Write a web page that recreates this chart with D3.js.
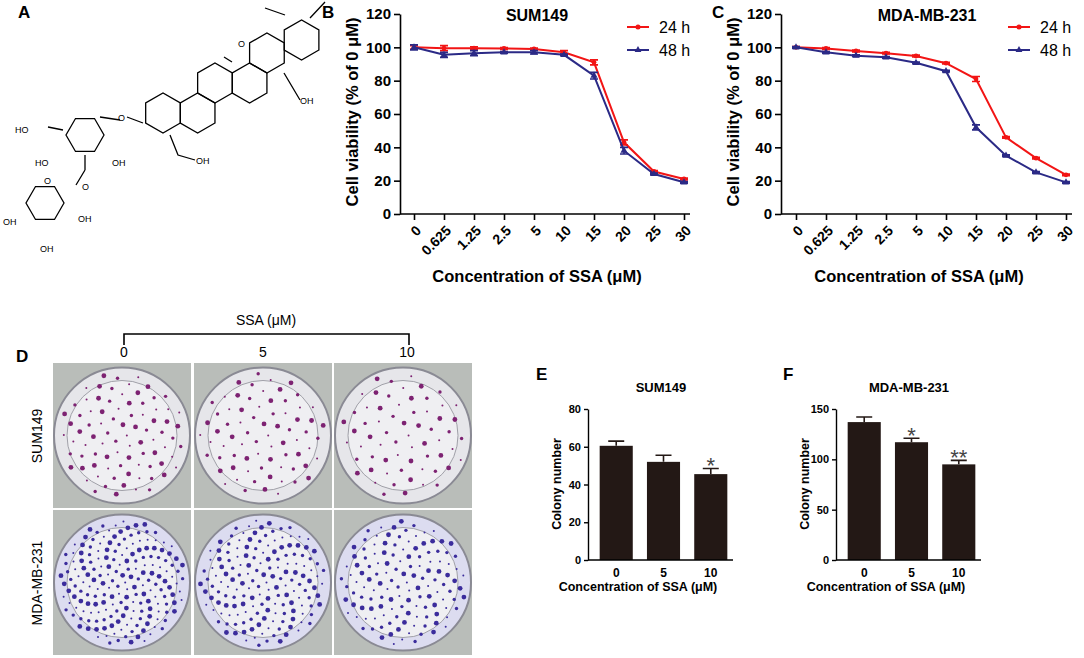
<!DOCTYPE html>
<html><head><meta charset="utf-8">
<script src="https://cdn.jsdelivr.net/npm/d3@7/dist/d3.min.js"></script>
<style>body{margin:0;background:#fff}text{font-family:"Liberation Sans",Arial,sans-serif}</style>
</head><body><svg id="fig" width="1084" height="658"></svg>
<script>
// viability data (% of 0 uM)
const concs = ["0","0.625","1.25","2.5","5","10","15","20","25","30"]
const sum24 = [100,99.5,99.5,99.3,99,97,91,43,25.5,21]
const sum24err = [1,1.5,0.8,0.5,0.5,1,1.5,1.5,0.5,0.5]
const sum48 = [100,95.5,96.5,97,97,95.5,83,38,24,19]
const sum48err = [1.5,1.5,1.5,0.5,1,0.5,2,2,0.5,0.5]
const mda24 = [100,99.3,97.8,96.5,94.8,90.5,81,46,33.5,23.5]
const mda24err = [0.5,0.5,0.5,0.5,0.5,0.5,1.5,0.5,0.5,0.5]
const mda48 = [100,97,95,94,90.7,85.7,52,35,25,19]
const mda48err = [0.5,0.5,0.5,0.5,0.5,0.5,1.5,0.5,0.5,0.5]
// colony data
const doses = ["0","5","10"]
const sumCol = [60.5,52,45.5]
const sumColErr = [2.5,3.5,3]
const sumStars = ["","","*"]
const mdaCol = [137,117,95]
const mdaColErr = [5,4,4]
const mdaStars = ["","*","**"]

const svg = d3.select("#fig")
const RED = "#f21515", BLUE = "#2b2a86", BAR = "#231815"

function label(x, y, t, size){
  svg.append("text").attr("x", x).attr("y", y).attr("font-size", size || 17)
    .attr("font-weight", "bold").text(t)
}

function lineChart(cfg){
  const g = svg.append("g")
  const x = d3.scalePoint().domain(concs).range(cfg.xr)
  const y = d3.scaleLinear().domain([0,120]).range([214,14])
  g.append("g").attr("transform", `translate(0,214)`)
    .call(d3.axisBottom(x).tickSize(6).tickSizeOuter(0))
    .call(a => a.select(".domain").attr("d", `M${cfg.ax},0H${cfg.xr[1]+6}`))
    .call(a => a.selectAll("text").attr("font-size", 14).attr("font-weight", "bold")
      .attr("text-anchor", "end").attr("x", 0).attr("y", 0).attr("dy", "0.35em")
      .attr("transform", "translate(4,14) rotate(-45)"))
  g.append("g").attr("transform", `translate(${cfg.ax},0)`)
    .call(d3.axisLeft(y).tickValues([0,20,40,60,80,100,120]).tickSize(6).tickSizeOuter(0))
    .call(a => a.selectAll("text").attr("font-size", 15).attr("font-weight", "bold"))
  g.selectAll(".domain,.tick line").attr("stroke", "#000").attr("stroke-width", 1.6)
  const series = [[cfg.s24, cfg.e24, RED, "circle"], [cfg.s48, cfg.e48, BLUE, "tri"]]
  series.forEach(([vals, errs, col, shape]) => {
    g.append("path").datum(vals).attr("fill", "none").attr("stroke", col).attr("stroke-width", 2)
      .attr("d", d3.line().x((d,i) => x(concs[i])).y(d => y(d)))
    vals.forEach((v,i) => {
      const cx = x(concs[i])
      g.append("path").attr("stroke", col).attr("stroke-width", 1.6).attr("fill", "none")
        .attr("d", `M${cx-4},${y(v+errs[i])}H${cx+4}M${cx},${y(v+errs[i])}V${y(v-errs[i])}M${cx-4},${y(v-errs[i])}H${cx+4}`)
      g.append("path").attr("fill", col).attr("transform", `translate(${cx},${y(v)})`)
        .attr("d", d3.symbol(shape == "circle" ? d3.symbolCircle : d3.symbolTriangle, shape == "circle" ? 18 : 22)())
    })
  })
  // legend
  ;[["24 h", RED, d3.symbolCircle, 27], ["48 h", BLUE, d3.symbolTriangle, 50]].forEach(([t,c,s,ly]) => {
    g.append("line").attr("x1", cfg.lx).attr("x2", cfg.lx+22).attr("y1", ly).attr("y2", ly).attr("stroke", c).attr("stroke-width", 2)
    g.append("path").attr("fill", c).attr("transform", `translate(${cfg.lx+11},${ly})`).attr("d", d3.symbol(s, 20)())
    g.append("text").attr("x", cfg.lx+32).attr("y", ly+6).attr("font-size", 16).text(t)
  })
  g.append("text").attr("x", cfg.tx).attr("y", 21).attr("text-anchor", "middle").attr("font-size", 16)
    .attr("font-weight", "bold").text(cfg.title)
  g.append("text").attr("x", (cfg.xr[0]+cfg.xr[1])/2 - 12).attr("y", 282).attr("text-anchor", "middle")
    .attr("font-size", 16.5).attr("font-weight", "bold").text("Concentration of SSA (μM)")
  g.append("text").attr("transform", `translate(${cfg.ax-42},112) rotate(-90)`).attr("text-anchor", "middle")
    .attr("font-size", 16.5).attr("font-weight", "bold").text("Cell viability (% of 0 μM)")
}

lineChart({xr:[414,684], ax:400, s24:sum24, e24:sum24err, s48:sum48, e48:sum48err, lx:627, tx:537, title:"SUM149"})
lineChart({xr:[796,1066], ax:781, s24:mda24, e24:mda24err, s48:mda48, e48:mda48err, lx:1008, tx:927, title:"MDA-MB-231"})

function barChart(cfg){
  const g = svg.append("g")
  const x = d3.scaleBand().domain(doses).range([cfg.ax+6, cfg.ax+145]).paddingInner(0.3).paddingOuter(0.12)
  const y = d3.scaleLinear().domain([0, cfg.max]).range([560,409])
  g.selectAll("rect").data(cfg.vals).join("rect")
    .attr("x", (d,i) => x(doses[i])).attr("width", x.bandwidth())
    .attr("y", d => y(d)).attr("height", d => 560 - y(d)).attr("fill", BAR)
  cfg.vals.forEach((v,i) => {
    const cx = x(doses[i]) + x.bandwidth()/2, top = y(v + cfg.errs[i])
    g.append("path").attr("stroke", BAR).attr("stroke-width", 1.6)
      .attr("d", `M${cx},${y(v)}V${top}M${cx-8},${top}H${cx+8}`)
    g.append("text").attr("x", cx).attr("y", top + 5).attr("text-anchor", "middle")
      .attr("font-size", 22).attr("fill", "#444").text(cfg.stars[i])
  })
  g.append("g").attr("transform", "translate(0,560)")
    .call(d3.axisBottom(x).tickSize(0).tickPadding(8).tickSizeOuter(0))
    .call(a => a.select(".domain").attr("d", `M${cfg.ax},0H${cfg.ax+145}`))
    .call(a => a.selectAll("text").attr("font-size", 12).attr("font-weight", "bold"))
  g.append("g").attr("transform", `translate(${cfg.ax},0)`)
    .call(d3.axisLeft(y).tickValues(cfg.ticks).tickSize(4).tickSizeOuter(0))
    .call(a => a.selectAll("text").attr("font-size", 11).attr("font-weight", "bold"))
  g.selectAll(".domain,.tick line").attr("stroke", "#000").attr("stroke-width", 1.4)
  g.append("text").attr("x", cfg.ax+73).attr("y", 392).attr("text-anchor", "middle").attr("font-size", 13)
    .attr("font-weight", "bold").text(cfg.title)
  g.append("text").attr("x", cfg.ax+50).attr("y", 591).attr("text-anchor", "middle").attr("font-size", 12.5)
    .attr("font-weight", "bold").text("Concentration of SSA (μM)")
  g.append("text").attr("transform", `translate(${cfg.ax-27},484) rotate(-90)`).attr("text-anchor", "middle")
    .attr("font-size", 12.5).attr("font-weight", "bold").text("Colony number")
}
barChart({ax:588, max:80, ticks:[0,20,40,60,80], vals:sumCol, errs:sumColErr, stars:sumStars, title:"SUM149"})
barChart({ax:836, max:150, ticks:[0,50,100,150], vals:mdaCol, errs:mdaColErr, stars:mdaStars, title:"MDA-MB-231"})

// panel D: plates drawn as schematic dishes with colony counts from the bar data
const plateCols = [53,194,334], plateRows = [[363,"#7d2272",sumCol],[510,"#3b2c9c",mdaCol]]
plateRows.forEach(([py,col,counts], ri) => {
  plateCols.forEach((px, ci) => {
    const w = 138, h = 145, cx = px + w/2, cy = py + h/2
    svg.append("rect").attr("x", px).attr("y", py).attr("width", w).attr("height", h).attr("fill", "#b9bdb9")
    svg.append("circle").attr("cx", cx).attr("cy", cy).attr("r", 68).attr("fill", ri ? "#dcdcf0" : "#e6e6ea")
      .attr("stroke", "#8a8a94").attr("stroke-width", 2)
    svg.append("circle").attr("cx", cx).attr("cy", cy).attr("r", 55).attr("fill", "#efeff2").attr("stroke", "#a0a0a8")
    const n = Math.round(counts[ci] * 1.4)
    for (let k = 0; k < n; k++) {
      const rr = 63 * Math.sqrt((k + 0.5) / n), th = k * 2.39996
      svg.append("circle").attr("cx", cx + rr*Math.cos(th)).attr("cy", cy + rr*Math.sin(th))
        .attr("r", 1 + (k % 3) * 0.7).attr("fill", col)
    }
  })
})
svg.append("path").attr("stroke", "#000").attr("stroke-width", 1.6).attr("fill", "none").attr("d", "M124,345V334H409V345")
svg.append("text").attr("x", 266).attr("y", 325).attr("text-anchor", "middle").attr("font-size", 14).text("SSA (μM)")
;[["0",124],["5",263],["10",407]].forEach(([t,x]) => svg.append("text").attr("x", x).attr("y", 357)
  .attr("text-anchor", "middle").attr("font-size", 14).text(t))
svg.append("text").attr("transform", "translate(42,436) rotate(-90)").attr("text-anchor", "middle").attr("font-size", 14).text("SUM149")
svg.append("text").attr("transform", "translate(42,583) rotate(-90)").attr("text-anchor", "middle").attr("font-size", 14).text("MDA-MB-231")

// panel A: simplified structure of saikosaponin A
const A = svg.append("g").attr("stroke", "#000").attr("stroke-width", 1.3).attr("fill", "none")
function hex(cx, cy, r, rot){
  const pts = d3.range(6).map(i => { const a = (rot + 60*i) * Math.PI/180; return [cx + r*Math.cos(a), cy + r*Math.sin(a)] })
  A.append("path").attr("d", d3.line()(pts) + "Z")
}
const r = 20, dx = r*Math.sqrt(3)
hex(163,113,r,30); hex(163+dx,113,r,30); hex(163+dx*1.5,83,r,30); hex(163+dx*2.5,83,r,30)
hex(163+dx*3,53,r,30); hex(163+dx*4,40,r,30)
hex(85,135,19,0); hex(45,203,19,0)
A.append("path").attr("d", "M224,57L232,62M310,18L325,2M285,15L265,8M284,73L300,100M143,123L127,117M120,120L100,117M63,130L48,127M85,155L85,170M76,185L85,170M170,135L178,155L195,160")
const tA = (x,y,t) => svg.append("text").attr("x", x).attr("y", y).attr("font-size", 9).attr("fill", "#000").attr("font-family", "Liberation Serif").text(t)
tA(118,121,"O"); tA(15,133,"HO"); tA(35,166,"HO"); tA(112,166,"OH"); tA(82,190,"O"); tA(44,184,"O")
tA(196,164,"OH"); tA(300,104,"OH"); tA(238,47,"O"); tA(78,222,"OH"); tA(3,225,"OH"); tA(40,252,"OH")
label(18,18,"A"); label(322,18,"B"); label(712,18,"C"); label(16,362,"D"); label(536,380,"E"); label(783,380,"F")
</script></body></html>
